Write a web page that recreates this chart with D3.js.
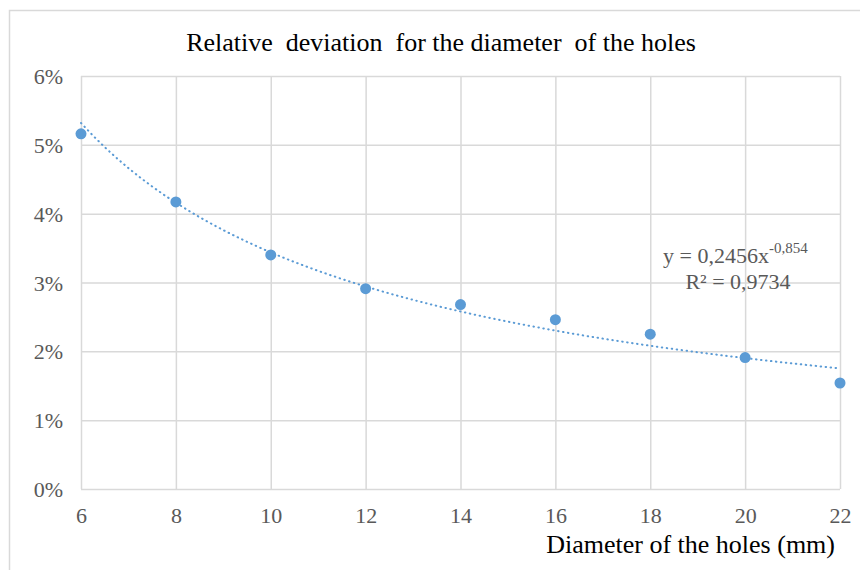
<!DOCTYPE html>
<html>
<head>
<meta charset="utf-8">
<script src="https://cdn.jsdelivr.net/npm/d3@7"></script>
<style>
  body { margin: 0; background: #fff; }
  svg { display: block; }
</style>
</head>
<body>
<svg id="chart" width="860" height="570"></svg>
<script>
// Data
// ----
const diameters = [6, 8, 10, 12, 14, 16, 18, 20, 22];
const deviations = [0.0516, 0.0417, 0.0340, 0.0291, 0.0268, 0.0246, 0.0225, 0.0191, 0.0154];
const xTicks = [6, 8, 10, 12, 14, 16, 18, 20, 22];
const yTicks = [0, 0.01, 0.02, 0.03, 0.04, 0.05, 0.06];
// power trendline shown on the chart: y = a * x^b
const trendA = 0.2456;
const trendB = -0.854;
const trendLabel = ["y = 0,2456x", "-0,854", "R² = 0,9734"];

const title = "Relative  deviation  for the diameter  of the holes";
const xTitle = "Diameter of the holes (mm)";

// Layout
// ------
const svg = d3.select("#chart");
const margin = { left: 81, right: 20, top: 76, bottom: 81 };
const width = 860, height = 570;
const serif = "Liberation Serif, Times New Roman, serif";
const blue = "#5b9bd5";

const x = d3.scaleLinear().domain([6, 22]).range([margin.left, width - margin.right]);
const y = d3.scaleLinear().domain([0, 0.06]).range([height - margin.bottom, margin.top]);

// Outer chart border (runs off the right and bottom of the picture)
svg.append("rect")
	.attr("x", 9.5).attr("y", 10.5)
	.attr("width", 870).attr("height", 580)
	.attr("fill", "none").attr("stroke", "#d9d9d9").attr("stroke-width", 1.5);

// Gridlines
svg.append("g")
	.attr("transform", `translate(0,${y(0)})`)
	.call(d3.axisBottom(x).tickValues(xTicks).tickSize(-(y(0) - y(0.06))).tickFormat(""))
	.call(g => g.select(".domain").remove())
	.call(g => g.selectAll("line").attr("stroke", "#d9d9d9").attr("stroke-width", 1.5));

svg.append("g")
	.attr("transform", `translate(${x(6)},0)`)
	.call(d3.axisLeft(y).tickValues(yTicks).tickSize(-(x(22) - x(6))).tickFormat(""))
	.call(g => g.select(".domain").remove())
	.call(g => g.selectAll("line").attr("stroke", "#d9d9d9").attr("stroke-width", 1.5));

// Tick labels
const xAxis = svg.append("g")
	.attr("transform", `translate(0,${y(0)})`)
	.attr("font-family", serif).attr("font-size", 22)
	.call(d3.axisBottom(x).tickValues(xTicks).tickSize(0).tickPadding(0).tickFormat(d3.format("d")));
xAxis.select(".domain").remove();
xAxis.selectAll("text").attr("dy", null).attr("y", 34);

const yAxis = svg.append("g")
	.attr("transform", `translate(${x(6)},0)`)
	.attr("font-family", serif).attr("font-size", 22)
	.call(d3.axisLeft(y).tickValues(yTicks).tickSize(0).tickPadding(18).tickFormat(d3.format(".0%")));
yAxis.select(".domain").remove();
yAxis.selectAll("text").attr("dy", null).attr("y", 7.5);

svg.selectAll(".tick text")
	.attr("font-family", serif).attr("font-size", 22).attr("fill", "#595959");

// Trendline
const trendXs = d3.range(6, 22.01, 0.25);
const trendLine = d3.line().x(d => x(d)).y(d => y(trendA * Math.pow(d, trendB)));
svg.append("path")
	.datum(trendXs)
	.attr("d", trendLine)
	.attr("fill", "none")
	.attr("stroke", blue)
	.attr("stroke-width", 2)
	.attr("stroke-linecap", "round")
	.attr("stroke-dasharray", "0.5,4.5");

// Points
svg.append("g").selectAll("circle")
	.data(diameters)
	.join("circle")
	.attr("cx", d => x(d))
	.attr("cy", (d, i) => y(deviations[i]))
	.attr("r", 5.5)
	.attr("fill", blue);

// Trendline label
const eq = svg.append("text")
	.attr("x", 663).attr("y", 263)
	.attr("font-family", serif).attr("font-size", 22).attr("fill", "#595959");
eq.append("tspan").text(trendLabel[0]);
eq.append("tspan").attr("dy", -10).attr("font-size", 15).text(trendLabel[1]);

svg.append("text")
	.attr("x", 738).attr("y", 289)
	.attr("text-anchor", "middle")
	.attr("font-family", serif).attr("font-size", 22).attr("fill", "#595959")
	.text(trendLabel[2]);

// Titles
svg.append("text")
	.attr("x", 441).attr("y", 51)
	.attr("text-anchor", "middle")
	.attr("font-family", serif).attr("font-size", 26).attr("fill", "#000")
	.style("white-space", "pre")
	.text(title);

svg.append("text")
	.attr("x", 835).attr("y", 553)
	.attr("text-anchor", "end")
	.attr("font-family", serif).attr("font-size", 26).attr("fill", "#000")
	.text(xTitle);
</script>
</body>
</html>
